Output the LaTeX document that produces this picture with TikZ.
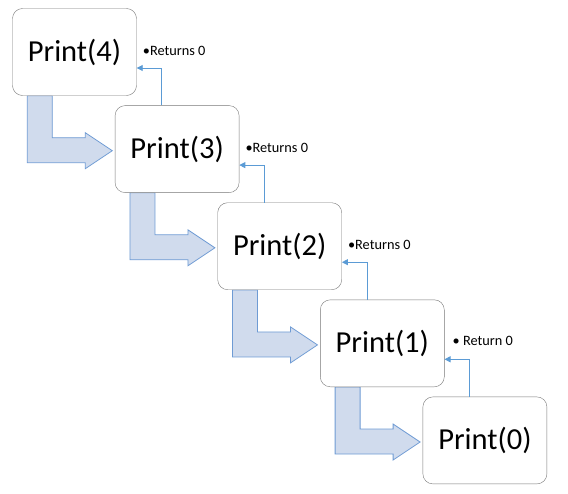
\documentclass[tikz,border=0pt]{standalone}
\usepackage{fontspec}
\setmainfont{Carlito}
\usetikzlibrary{positioning,backgrounds,arrows.meta}
\definecolor{boxline}{RGB}{120,120,120}
\definecolor{fatfill}{RGB}{208,219,237}
\definecolor{fatline}{RGB}{110,155,212}
\definecolor{retline}{RGB}{91,155,213}

\begin{document}
\begin{tikzpicture}[x=1pt,y=-1pt,
  call/.style={draw=boxline, fill=white, rounded corners=10pt, minimum width=124pt, minimum height=87pt, inner sep=0pt, font=\fontsize{30.5}{35}\selectfont},
  fat/.style={fill=fatfill, draw=fatline, line width=0.8pt},
  ret/.style={draw=retline, line width=0.9pt, -{Triangle[length=6pt,width=6pt]}},
  note/.style={font=\fontsize{14.3}{17}\selectfont, anchor=base west, inner sep=0pt}]
\useasboundingbox (0,0) rectangle (568,493);
%calls
\foreach \n [count=\i from 0] in {4,3,2,1,0}{\node[call] (p\n) at (74.5+102.6*\i, 52+97.1*\i) {Print(\n)};}
%fat arrows down to the next call
\begin{scope}[on background layer]
\foreach \a in {4,3,2,1}{\draw[fat] ([xshift=15pt]p\a.south west) -- ++(0,67) -- ++(58,0) -- ++(0,6) -- ++(27,-18) -- ++(-27,-18) -- ++(0,5) -- ++(-33,0) -- ++(0,-42) -- cycle;}
\end{scope}
%returns
\foreach \a/\b in {4/3,3/2,2/1,1/0}{\draw[ret] ([xshift=47pt]p\b.north west) |- ([yshift=-16pt]p\a.east);}
\foreach \a in {4,3,2}{\node[note] (r\a) at ([xshift=6pt,yshift=-47pt]p\a.north east) {•Returns 0};}
\node[note] (r1) at ([xshift=8pt,yshift=-46pt]p1.north east) {• Return 0};
\end{tikzpicture}
\end{document}
